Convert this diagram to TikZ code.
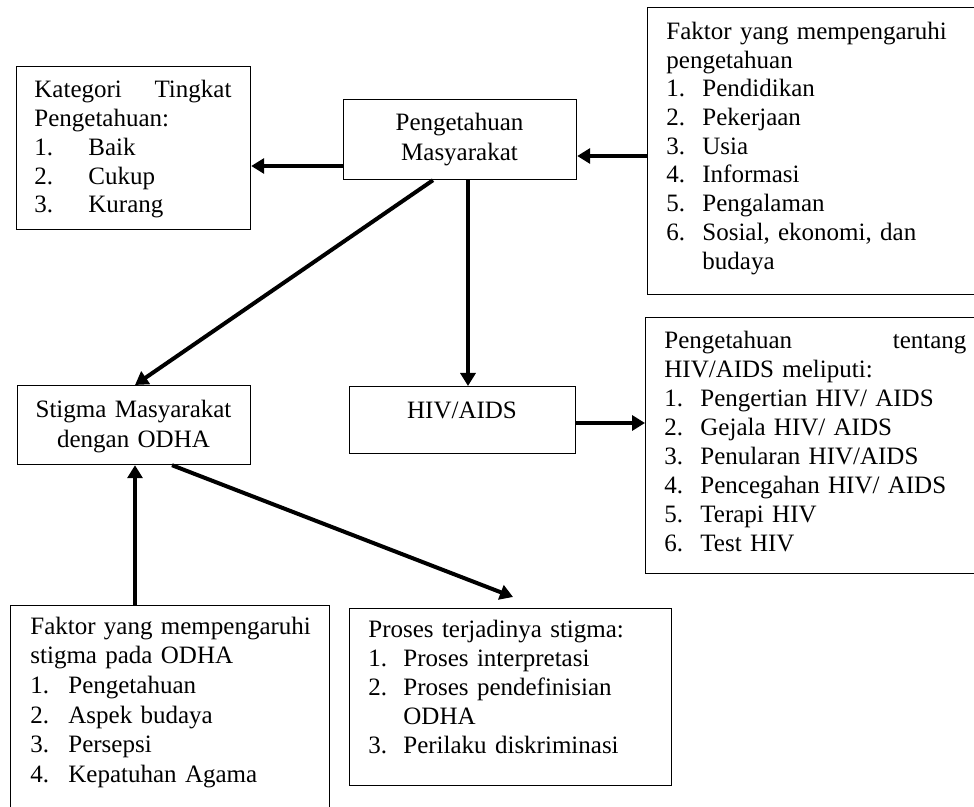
\documentclass[tikz,border=0pt]{standalone}
\usepackage{fontspec}
\setmainfont{Liberation Serif}
\usetikzlibrary{arrows.meta}
\begin{document}
\begin{tikzpicture}[x=0.5pt,y=-0.5pt,
  box/.style={draw, line width=0.6pt, inner sep=0pt, anchor=north west},
  txt/.style={inner sep=0pt, anchor=base west, align=left},
  ctxt/.style={inner sep=0pt, anchor=base, align=center, text width=110pt},
  arr/.style={line width=2pt, -{Triangle[length=6.5pt,width=7.5pt]}}]
\useasboundingbox (0,0) rectangle (974,807);
\clip (0,0) rectangle (974,807);
% boxes
\node[box, minimum width=117pt, minimum height=81.5pt] (kat) at (16,66) {};
\node[box, minimum width=116.5pt, minimum height=40pt] (pm) at (343,99) {};
\node[box, minimum width=171.5pt, minimum height=143.5pt] (fp) at (647,7) {};
\node[box, minimum width=116.5pt, minimum height=39.5pt] (stig) at (17,385) {};
\node[box, minimum width=113pt, minimum height=33.5pt] (hiv) at (349,386) {};
\node[box, minimum width=172.5pt, minimum height=128pt] (ph) at (645,317) {};
\node[box, minimum width=159.5pt, minimum height=112.5pt] (fs) at (10,605) {};
\node[box, minimum width=161pt, minimum height=88.5pt] (pr) at (349,608) {};
% texts
\node[txt, text width=98.5pt, font=\fontsize{12.5}{14.35}\selectfont] (katT) at (34,98)
  {\makebox[98.5pt][l]{Kategori\hfill Tingkat}\\ Pengetahuan:\\
   \makebox[27pt][l]{1.}Baik\\ \makebox[27pt][l]{2.}Cukup\\ \makebox[27pt][l]{3.}Kurang};
\node[ctxt, font=\fontsize{12.5}{14.75}\selectfont] (pmT) at (459.5,131) {Pengetahuan\\ Masyarakat};
\node[txt, text width=150pt, font=\fontsize{12.5}{14.35}\selectfont] (fpT) at (666,39.5)
  {Faktor yang mempengaruhi\\ pengetahuan\\
   \makebox[18pt][l]{1.}Pendidikan\\ \makebox[18pt][l]{2.}Pekerjaan\\
   \makebox[18pt][l]{3.}Usia\\ \makebox[18pt][l]{4.}Informasi\\
   \makebox[18pt][l]{5.}Pengalaman\\ \makebox[18pt][l]{6.}Sosial, ekonomi, dan\\
   \hspace*{18pt}budaya};
\node[ctxt, font=\fontsize{12.5}{15}\selectfont] (stigT) at (133.5,417) {Stigma Masyarakat\\ dengan ODHA};
\node[ctxt, font=\fontsize{12.5}{15}\selectfont] (hivT) at (462,418) {HIV/AIDS};
\node[txt, text width=151pt, font=\fontsize{12.5}{14.45}\selectfont] (phT) at (664,349)
  {\makebox[151pt][l]{Pengetahuan\hfill tentang}\\ HIV/AIDS meliputi:\\
   \makebox[18pt][l]{1.}Pengertian HIV/ AIDS\\ \makebox[18pt][l]{2.}Gejala HIV/ AIDS\\
   \makebox[18pt][l]{3.}Penularan HIV/AIDS\\ \makebox[18pt][l]{4.}Pencegahan HIV/ AIDS\\
   \makebox[18pt][l]{5.}Terapi HIV\\ \makebox[18pt][l]{6.}Test HIV};
\node[txt, text width=150pt, font=\fontsize{12.5}{14.85}\selectfont] (fsT) at (30,634)
  {Faktor yang mempengaruhi\\ stigma pada ODHA\\
   \makebox[19pt][l]{1.}Pengetahuan\\ \makebox[19pt][l]{2.}Aspek budaya\\
   \makebox[19pt][l]{3.}Persepsi\\ \makebox[19pt][l]{4.}Kepatuhan Agama};
\node[txt, text width=150pt, font=\fontsize{12.5}{14.6}\selectfont] (prT) at (368,637)
  {Proses terjadinya stigma:\\
   \makebox[17.5pt][l]{1.}Proses interpretasi\\ \makebox[17.5pt][l]{2.}Proses pendefinisian\\
   \hspace*{17.5pt}ODHA\\ \makebox[17.5pt][l]{3.}Perilaku diskriminasi};
% connectors
\coordinate (prtip) at (513,597);
\draw[arr] (fp.west |- 0,156) -- (pm.east |- 0,156);
\draw[arr] (pm.west |- 0,166) -- (kat.east |- 0,166);
\draw[arr] (pm.south -| 433,0) -- (stig.north -| 135,0);
\draw[arr] (pm.south -| 468,0) -- (hiv.north -| 468,0);
\draw[arr] (hiv.east |- 0,423) -- (ph.west |- 0,423);
\draw[arr] (stig.south -| 172,0) -- (prtip);
\draw[arr] (fs.north -| 135,0) -- (stig.south -| 135,0);
\end{tikzpicture}
\end{document}
